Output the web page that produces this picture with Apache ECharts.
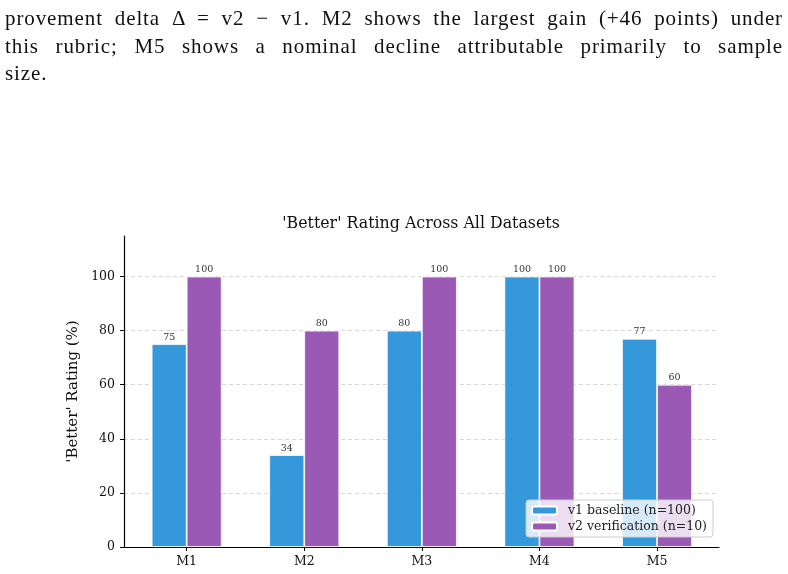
<!DOCTYPE html>
<html>
<head>
<meta charset="utf-8">
<script src="https://cdn.jsdelivr.net/npm/echarts@6/dist/echarts.min.js"></script>
<style>
  html, body { margin: 0; padding: 0; background: #ffffff; }
  .page { position: relative; width: 788px; height: 574px; overflow: hidden; }
  .para {
    position: absolute; left: 5px; top: 5px; width: 778px;
    font-family: "Liberation Serif", serif; font-size: 21px; line-height: 27.5px;
    letter-spacing: 0.9px; color: #111;
  }
  .para .jl { text-align: justify; text-align-last: justify; }
  #chart { position: absolute; left: 0; top: 0; width: 788px; height: 574px; }
</style>
</head>
<body>
<div class="page">
  <div id="chart"></div>
  <div class="para">
    <div class="jl">provement delta Δ = v2 − v1. M2 shows the largest gain (+46 points) under</div>
    <div class="jl">this rubric; M5 shows a nominal decline attributable primarily to sample</div>
    <div>size.</div>
  </div>
</div>
<script>
// 数据
const categories = ['M1', 'M2', 'M3', 'M4', 'M5'];
const v1Baseline = [75, 34, 80, 100, 77];
const v2Verification = [100, 80, 100, 100, 60];
const yTicks = [0, 20, 40, 60, 80, 100];
const xTicks = [0, 1, 2, 3, 4];

const FONT = 'DejaVu Serif';

const chart = echarts.init(document.getElementById('chart'));

const barLabel = {
  show: true,
  position: 'top',
  distance: 2,
  fontFamily: FONT,
  fontSize: 9.5,
  color: '#333',
  formatter: p => p.value[1]
};

chart.setOption({
  animation: false,
  title: {
    text: "'Better' Rating Across All Datasets",
    left: 416,
    textAlign: 'center',
    top: 211,
    textStyle: { fontFamily: FONT, fontSize: 15.8, fontWeight: 'normal', color: '#111' }
  },
  grid: { left: 124, right: 69, top: 236, bottom: 27, containLabel: false },
  legend: {
    orient: 'vertical',
    right: 75,
    top: 500,
    itemWidth: 25,
    itemHeight: 8,
    itemGap: 3,
    padding: [4, 6, 4, 5],
    backgroundColor: 'rgba(255,255,255,0.8)',
    borderColor: '#cccccc',
    borderWidth: 1,
    borderRadius: 3,
    textStyle: { fontFamily: FONT, fontSize: 12.5, color: '#222', padding: [0, 0, 0, 6] },
    data: ['v1 baseline (n=100)', 'v2 verification (n=10)']
  },
  xAxis: {
    type: 'value',
    min: -0.533,
    max: 4.527,
    splitLine: { show: false },
    axisLine: { show: true, onZero: false, lineStyle: { color: '#000', width: 1.2 } },
    axisTick: { show: true, length: 4, lineStyle: { color: '#000' }, customValues: xTicks },
    axisLabel: {
      fontFamily: FONT, fontSize: 12.5, color: '#111', margin: 8,
      customValues: xTicks,
      formatter: v => categories[Math.round(v)]
    }
  },
  yAxis: {
    type: 'value',
    min: 0,
    max: 115,
    interval: 20,
    name: "'Better' Rating (%)",
    nameLocation: 'middle',
    nameGap: 38,
    nameTextStyle: { fontFamily: FONT, fontSize: 15, color: '#111' },
    axisLine: { show: true, onZero: false, lineStyle: { color: '#000', width: 1.2 } },
    axisTick: { show: true, length: 4, lineStyle: { color: '#000' }, customValues: yTicks },
    axisLabel: { fontFamily: FONT, fontSize: 12.5, color: '#111', margin: 9, customValues: yTicks },
    splitLine: { show: true, lineStyle: { color: '#d4d4d4', type: [4, 3], width: 0.9 } }
  },
  series: [
    {
      name: 'v1 baseline (n=100)',
      type: 'bar',
      data: v1Baseline.map((v, i) => [i, v]),
      barWidth: 35,
      barGap: '0%',
      itemStyle: { color: '#3498db', borderColor: '#ffffff', borderWidth: 0.8 },
      label: barLabel,
      z: 2
    },
    {
      name: 'v2 verification (n=10)',
      type: 'bar',
      data: v2Verification.map((v, i) => [i, v]),
      barWidth: 35,
      barGap: '0%',
      itemStyle: { color: '#9b59b6', borderColor: '#ffffff', borderWidth: 0.8 },
      label: barLabel,
      z: 2
    }
  ]
});
</script>
</body>
</html>
